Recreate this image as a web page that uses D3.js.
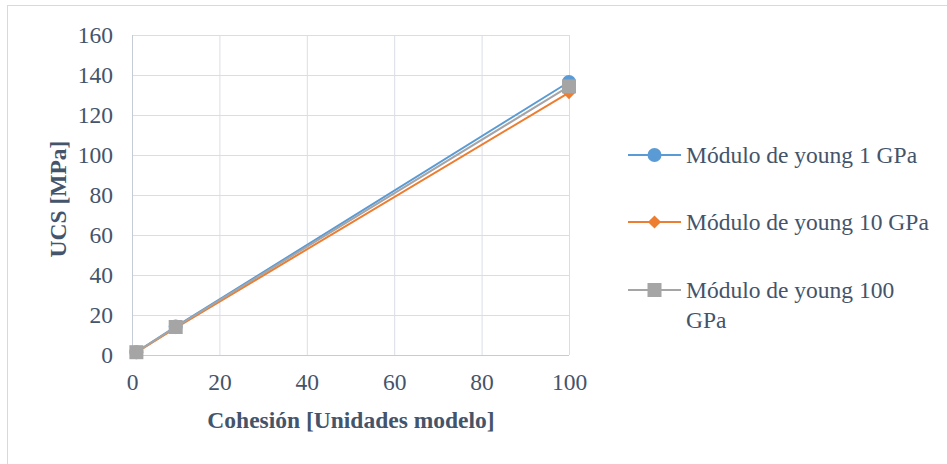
<!DOCTYPE html>
<html><head><meta charset="utf-8">
<script src="https://cdn.jsdelivr.net/npm/d3@7"></script>
<style>body{margin:0;background:#fff}svg{display:block}</style>
</head><body>
<script>
const cohesion = [1, 10, 100];
const young1 = [1.4, 14.2, 136.5];
const young10 = [1.3, 13.6, 131.2];
const young100 = [1.4, 14.0, 134.3];
const seriesNames = ["Módulo de young 1 GPa", "Módulo de young 10 GPa", "Módulo de young 100 GPa"];
const xTicks = [0, 20, 40, 60, 80, 100];
const yTicks = [0, 20, 40, 60, 80, 100, 120, 140, 160];

const W = 947, H = 464;
const svg = d3.select("body").append("svg").attr("width", W).attr("height", H);
const FONT = '"Liberation Serif", "Times New Roman", serif';
const txt = "#44546A";
const FS = 23.5;

svg.append("rect").attr("x", 7.5).attr("y", 5.5).attr("width", 960).attr("height", 480)
  .attr("fill", "#fff").attr("stroke", "#d9d9d9");

const x = d3.scaleLinear().domain([0, 100]).range([132, 569]);
const y = d3.scaleLinear().domain([0, 160]).range([355, 35]);

const g = svg.append("g");
g.selectAll(".hg").data(yTicks).join("line")
  .attr("x1", x(0)).attr("x2", x(100)).attr("y1", d => y(d) + 0.5).attr("y2", d => y(d) + 0.5)
  .attr("stroke", "#d9dee6").attr("stroke-width", 1);
g.selectAll(".vg").data(xTicks).join("line")
  .attr("y1", y(0)).attr("y2", y(160)).attr("x1", d => x(d) + 0.5).attr("x2", d => x(d) + 0.5)
  .attr("stroke", "#d9dee6").attr("stroke-width", 1);
g.append("line").attr("x1", x(0)+0.5).attr("x2", x(0)+0.5).attr("y1", y(0)).attr("y2", y(160)).attr("stroke", "#c5ccd6");
g.append("line").attr("x1", x(0)).attr("x2", x(100)).attr("y1", y(0)+0.5).attr("y2", y(0)+0.5).attr("stroke", "#c5ccd6");

const yAxis = d3.axisLeft(y).tickValues(yTicks).tickSize(0).tickPadding(19);
const ya = svg.append("g").attr("transform", `translate(${x(0)},0)`).call(yAxis);
const xAxis = d3.axisBottom(x).tickValues(xTicks).tickSize(0).tickPadding(18);
const xa = svg.append("g").attr("transform", `translate(0,${y(0)})`).call(xAxis);
[ya, xa].forEach(a => {
  a.attr("font-family", null).attr("font-size", null);
  a.select(".domain").remove();
  a.selectAll("text").style("font-family", FONT).attr("font-size", FS).attr("fill", txt);
});

svg.append("text").attr("transform", `translate(66,${y(80) + 4}) rotate(-90)`)
  .attr("text-anchor", "middle").style("font-family", FONT).attr("font-size", FS)
  .attr("font-weight", "bold").attr("fill", txt).text("UCS [MPa]");
svg.append("text").attr("x", 351).attr("y", 428)
  .attr("text-anchor", "middle").style("font-family", FONT).attr("font-size", FS)
  .attr("font-weight", "bold").attr("fill", txt).text("Cohesión [Unidades modelo]");

const colors = ["#5B9BD5", "#ED7D31", "#A5A5A5"];
const data = [young1, young10, young100];
const line = d3.line().x((d, i) => x(cohesion[i])).y(d => y(d));

function marker(sel, k, cx, cy) {
  if (k === 0) sel.append("circle").attr("cx", cx).attr("cy", cy).attr("r", 7).attr("fill", colors[0]);
  else if (k === 1) sel.append("path").attr("d", d3.symbol(d3.symbolDiamond2, 110)())
    .attr("transform", `translate(${cx},${cy})`).attr("fill", colors[1]);
  else sel.append("rect").attr("x", cx - 7).attr("y", cy - 7).attr("width", 14).attr("height", 14).attr("fill", colors[2]);
}

data.forEach((vals, k) => {
  const sg = svg.append("g");
  sg.append("path").datum(vals).attr("d", line).attr("fill", "none")
    .attr("stroke", colors[k]).attr("stroke-width", 2);
  vals.forEach((v, i) => marker(sg, k, x(cohesion[i]), y(v)));
});

const legY = [155, 222, 290];
seriesNames.forEach((name, k) => {
  const lg = svg.append("g");
  lg.append("line").attr("x1", 628).attr("x2", 681).attr("y1", legY[k]).attr("y2", legY[k])
    .attr("stroke", colors[k]).attr("stroke-width", 2);
  marker(lg, k, 654.5, legY[k]);
  const t = lg.append("text").attr("x", 686).attr("y", legY[k] + 7.5)
    .style("font-family", FONT).attr("font-size", FS).attr("fill", txt);
  if (k === 2) {
    t.append("tspan").attr("x", 686).text("Módulo de young 100");
    t.append("tspan").attr("x", 686).attr("dy", 30).text("GPa");
  } else t.text(name);
});
</script>
</body></html>
